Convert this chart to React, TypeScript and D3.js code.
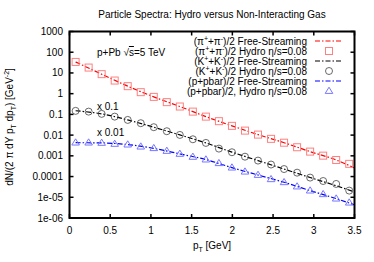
import * as d3 from "d3";

// hydro points (markers)
const ptHydro = [
  0.075, 0.235, 0.395, 0.555, 0.715, 0.875, 1.035, 1.195, 1.355, 1.515, 1.675,
  1.835, 1.995, 2.155, 2.315, 2.475, 2.635, 2.795, 2.955, 3.115, 3.275, 3.435,
];
const pionHydro = [
  34, 18.2, 8.75, 4.3, 2.3, 1.18, 0.7, 0.39, 0.24, 0.136, 0.078, 0.047, 0.028,
  0.0165, 0.0106, 0.0066, 0.0043, 0.0026, 0.0016, 0.00102, 0.00063, 0.00041,
];
const kaonHydro = [
  0.148, 0.136, 0.106, 0.078, 0.054, 0.0376, 0.0241, 0.0154, 0.0102, 0.0063,
  0.0042, 0.00223, 0.00149, 0.00091, 0.00059, 0.00038, 0.00023, 0.000154,
  8.9e-5, 6.1e-5, 4.4e-5, 2.1e-5,
];
const protonHydro = [
  0.00434, 0.00434, 0.0042, 0.00376, 0.00348, 0.00278, 0.00233, 0.00172,
  0.00124, 0.00089, 0.00066, 0.00044, 0.00027, 0.000172, 0.000119, 7.4e-5,
  5.3e-5, 3.3e-5, 2.1e-5, 1.4e-5, 8.6e-6, 5.5e-6,
];

// free-streaming curves
const ptFree = [0.075, 0.395, 0.715, 1.035, 1.355, 1.675, 1.995, 2.315, 2.635, 2.955, 3.275, 3.5];
const pionFree = [34, 8.7, 2.3, 0.7, 0.24, 0.078, 0.028, 0.0106, 0.0043, 0.0016, 0.00063, 0.00026];
const kaonFree = [0.15, 0.106, 0.054, 0.024, 0.0102, 0.0042, 0.0015, 0.00059, 0.00023, 9e-5, 3.6e-5, 1.8e-5];
const protonFree = [0.0043, 0.0042, 0.0035, 0.0023, 0.00124, 0.00066, 0.00027, 0.000119, 5.3e-5, 2.1e-5, 8.6e-6, 4.3e-6];

const xTicks = [0, 0.5, 1, 1.5, 2, 2.5, 3, 3.5];
const yTicks = [1000, 100, 10, 1, 0.1, 0.01, 0.001, 0.0001, 1e-5, 1e-6];
const yTickLabels = ["1000", "100", "10", "1", "0.1", "0.01", "0.001", "0.0001", "1e-05", "1e-06"];

// rich text: [text, shift] where shift is "" | "^" (superscript) | "_" (subscript)
type Seg = [string, string];
const legendLabels: Seg[][] = [
  [["(π", ""], ["+", "^"], ["+π", ""], ["-", "^"], [")/2 Free-Streaming", ""]],
  [["(π", ""], ["+", "^"], ["+π", ""], ["-", "^"], [")/2 Hydro η/s=0.08", ""]],
  [["(K", ""], ["+", "^"], ["+K", ""], ["-", "^"], [")/2 Free-Streaming", ""]],
  [["(K", ""], ["+", "^"], ["+K", ""], ["-", "^"], [")/2 Hydro η/s=0.08", ""]],
  [["(p+pbar)/2 Free-Streaming", ""]],
  [["(p+pbar)/2, Hydro η/s=0.08", ""]],
];
const yTitle: Seg[] = [
  ["dN/(2 π dY p", ""], ["T", "_"], [" dp", ""], ["T", "_"], [") [GeV", ""], ["-2", "^"], ["]", ""],
];
const xTitle: Seg[] = [["p", ""], ["T", "_"], [" [GeV]", ""]];

const W = 374;
const H = 262;
const m = { left: 69.5, right: 354.5, top: 31.5, bottom: 218 };
const font = "'Liberation Sans', Arial, sans-serif";

const RED = "#ff0000";
const RED_PT = "#ff8080";
const BLACK = "#000000";
const GRAY_PT = "#444444";
const BLUE = "#0000ff";
const BLUE_PT = "#7777ff";
const DASH = "5,2,1.5,2";

function rich(segs: Seg[]) {
  let level = 0;
  return segs.map(([t, s], i) => {
    const target = s === "^" ? -4 : s === "_" ? 2.5 : 0;
    const dy = target - level;
    level = target;
    return (
      <tspan key={i} dy={dy} fontSize={s ? 7 : 10}>
        {t}
      </tspan>
    );
  });
}

export default function App() {
  const x = d3.scaleLinear().domain([0, 3.5]).range([m.left, m.right]);
  const y = d3.scaleLog().domain([1e-6, 1000]).range([m.bottom, m.top]);

  const line = d3
    .line<[number, number]>()
    .x((d) => x(d[0]))
    .y((d) => y(d[1]))
    .curve(d3.curveMonotoneX);

  const zip = (a: number[], b: number[]) => a.map((v, i) => [v, b[i]] as [number, number]);

  const square = (cx: number, cy: number, k: string) => (
    <rect key={k} x={cx - 3.5} y={cy - 3.5} width={7} height={7} fill="none" stroke={RED_PT} strokeWidth={1} />
  );
  const circle = (cx: number, cy: number, k: string) => (
    <circle key={k} cx={cx} cy={cy} r={3.5} fill="none" stroke={GRAY_PT} strokeWidth={0.8} />
  );
  const tri = (cx: number, cy: number, k: string) => (
    <path
      key={k}
      d={`M${cx},${cy - 3.8}L${cx + 3.8},${cy + 2.4}L${cx - 3.8},${cy + 2.4}Z`}
      fill="none"
      stroke={BLUE_PT}
      strokeWidth={1}
    />
  );

  const legendKinds = ["line", "sq", "line", "ci", "line", "tr"];
  const legendColors = [RED, RED, BLACK, BLACK, BLUE, BLUE];

  return (
    <svg
      width={W}
      height={H}
      viewBox={`0 0 ${W} ${H}`}
      style={{ position: "absolute", left: 0, top: 0, background: "#fff" }}
      fontFamily={font}
      fontSize={10}
    >
      {/* title */}
      <text x={212} y={18} textAnchor="middle" fill="#000">
        Particle Spectra: Hydro versus Non-Interacting Gas
      </text>

      {/* ticks */}
      {yTicks.map((t, i) => (
        <g key={`yt${i}`}>
          <line x1={m.left} x2={m.left + 4} y1={y(t)} y2={y(t)} stroke="#000" strokeWidth={1.5} />
          <line x1={m.right - 4} x2={m.right} y1={y(t)} y2={y(t)} stroke="#000" strokeWidth={1.5} />
          <text x={63} y={y(t) + 3.5} textAnchor="end">
            {yTickLabels[i]}
          </text>
        </g>
      ))}
      {xTicks.map((t, i) => (
        <g key={`xt${i}`}>
          <line x1={x(t)} x2={x(t)} y1={m.bottom} y2={m.bottom - 4} stroke="#000" strokeWidth={1.5} />
          <line x1={x(t)} x2={x(t)} y1={m.top} y2={m.top + 4} stroke="#000" strokeWidth={1.5} />
          <text x={x(t)} y={234} textAnchor="middle">
            {String(t)}
          </text>
        </g>
      ))}

      {/* axis titles */}
      <text x={212} y={249} textAnchor="middle">
        {rich(xTitle)}
      </text>
      <text transform="translate(13,127) rotate(-90)" textAnchor="middle">
        {rich(yTitle)}
      </text>

      {/* curves */}
      <path d={line(zip(ptFree, pionFree)) ?? ""} fill="none" stroke={RED} strokeWidth={1.2} strokeDasharray={DASH} />
      <path d={line(zip(ptFree, kaonFree)) ?? ""} fill="none" stroke={BLACK} strokeWidth={1.2} strokeDasharray={DASH} />
      <path d={line(zip(ptFree, protonFree)) ?? ""} fill="none" stroke={BLUE} strokeWidth={1.2} strokeDasharray={DASH} />

      {ptHydro.map((p, i) => square(x(p), y(pionHydro[i]), `s${i}`))}
      {ptHydro.map((p, i) => circle(x(p), y(kaonHydro[i]), `c${i}`))}
      {ptHydro.map((p, i) => tri(x(p), y(protonHydro[i]), `t${i}`))}

      {/* annotations */}
      <text x={97} y={56}>
        p+Pb √<tspan textDecoration="overline">s</tspan>=5 TeV
      </text>
      <text x={97} y={110}>x 0.1</text>
      <text x={97} y={136}>x 0.01</text>

      {/* legend */}
      {legendLabels.map((segs, i) => {
        const cy = 41 + i * 10;
        const kind = legendKinds[i];
        return (
          <g key={`lg${i}`}>
            <text x={307} y={cy + 3.5} textAnchor="end">
              {rich(segs)}
            </text>
            {kind === "line" && (
              <line x1={315} x2={343} y1={cy} y2={cy} stroke={legendColors[i]} strokeWidth={1.2} strokeDasharray={DASH} />
            )}
            {kind === "sq" && square(329, cy, "lsq")}
            {kind === "ci" && circle(329, cy, "lci")}
            {kind === "tr" && tri(329, cy, "ltr")}
          </g>
        );
      })}

      {/* frame */}
      <rect
        x={m.left}
        y={m.top}
        width={m.right - m.left}
        height={m.bottom - m.top}
        fill="none"
        stroke="#000"
        strokeWidth={2}
      />
    </svg>
  );
}
